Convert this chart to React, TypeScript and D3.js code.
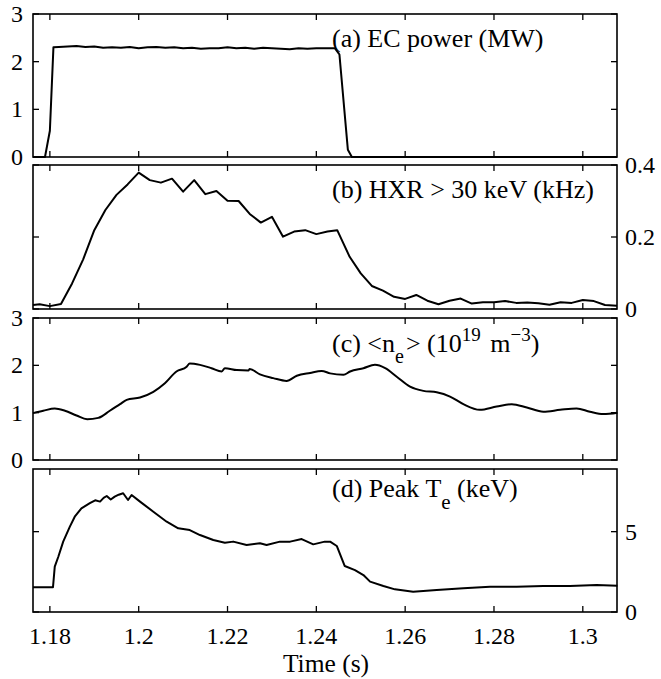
import React from "react";
import * as d3 from "d3";

// (a) EC power (MW)
const ecTime = [1.1762, 1.1789, 1.18, 1.1808, 1.182, 1.184, 1.186, 1.188, 1.19, 1.192, 1.194, 1.196, 1.198, 1.2, 1.202, 1.204, 1.206, 1.208, 1.21, 1.212, 1.214, 1.216, 1.218, 1.22, 1.222, 1.224, 1.226, 1.228, 1.23, 1.232, 1.234, 1.236, 1.238, 1.24, 1.2442, 1.2452, 1.2471, 1.248, 1.3077];
const ecPower = [0, 0, 0.55, 2.3, 2.31, 2.32, 2.33, 2.31, 2.32, 2.29, 2.3, 2.29, 2.31, 2.28, 2.3, 2.31, 2.29, 2.3, 2.28, 2.29, 2.27, 2.28, 2.28, 2.3, 2.28, 2.29, 2.27, 2.29, 2.28, 2.27, 2.26, 2.28, 2.27, 2.28, 2.28, 2.15, 0.15, 0, 0];

// (b) HXR > 30 keV (kHz)
const hxrTime = [1.1762, 1.1777, 1.18, 1.1825, 1.185, 1.1875, 1.19, 1.1925, 1.195, 1.1975, 1.2, 1.2025, 1.205, 1.2075, 1.21, 1.2125, 1.215, 1.2175, 1.22, 1.2225, 1.225, 1.2275, 1.23, 1.2325, 1.235, 1.2375, 1.24, 1.2425, 1.2447, 1.2475, 1.25, 1.2525, 1.255, 1.2575, 1.26, 1.2625, 1.265, 1.2675, 1.27, 1.2725, 1.275, 1.2775, 1.28, 1.2825, 1.285, 1.2875, 1.29, 1.2925, 1.295, 1.2975, 1.3, 1.3025, 1.305, 1.3077];
const hxrRate = [0.011, 0.013, 0.008, 0.014, 0.071, 0.138, 0.219, 0.275, 0.317, 0.346, 0.379, 0.358, 0.351, 0.362, 0.326, 0.358, 0.319, 0.328, 0.301, 0.3, 0.264, 0.24, 0.256, 0.201, 0.215, 0.219, 0.208, 0.215, 0.219, 0.145, 0.099, 0.064, 0.051, 0.034, 0.028, 0.039, 0.023, 0.013, 0.023, 0.029, 0.015, 0.019, 0.019, 0.022, 0.017, 0.018, 0.016, 0.012, 0.019, 0.017, 0.025, 0.022, 0.011, 0.009];

// (c) <ne> (1e19 m^-3)
const neTime = [1.1762, 1.1785, 1.1811, 1.1834, 1.186, 1.1884, 1.1909, 1.1935, 1.1958, 1.1973, 1.2003, 1.2033, 1.2059, 1.2085, 1.2108, 1.2115, 1.2138, 1.2164, 1.2187, 1.2194, 1.2221, 1.2247, 1.225, 1.2273, 1.2303, 1.2333, 1.2356, 1.2386, 1.2412, 1.2431, 1.2461, 1.2476, 1.2506, 1.2532, 1.2555, 1.2581, 1.2611, 1.2641, 1.2671, 1.2701, 1.2731, 1.2768, 1.2806, 1.284, 1.2874, 1.2911, 1.2949, 1.2986, 1.3016, 1.3046, 1.3078];
const neDensity = [0.99, 1.04, 1.09, 1.04, 0.94, 0.86, 0.89, 1.04, 1.18, 1.27, 1.32, 1.44, 1.62, 1.87, 1.97, 2.04, 2.01, 1.94, 1.87, 1.94, 1.9, 1.89, 1.92, 1.81, 1.73, 1.67, 1.78, 1.84, 1.88, 1.83, 1.8, 1.87, 1.94, 2.01, 1.94, 1.76, 1.55, 1.46, 1.43, 1.34, 1.18, 1.06, 1.13, 1.18, 1.11, 1.02, 1.06, 1.09, 1.02, 0.97, 1.0];

// (d) Peak Te (keV)
const teTime = [1.1762, 1.1807, 1.1811, 1.1819, 1.183, 1.1845, 1.1856, 1.1871, 1.189, 1.1902, 1.1913, 1.1921, 1.1928, 1.1937, 1.1946, 1.1955, 1.1965, 1.1976, 1.1984, 1.2003, 1.2033, 1.2063, 1.2089, 1.2115, 1.2138, 1.2168, 1.2194, 1.2213, 1.2243, 1.2273, 1.2288, 1.2318, 1.2341, 1.2367, 1.2393, 1.2419, 1.2431, 1.2446, 1.2464, 1.2487, 1.2506, 1.2521, 1.2551, 1.2577, 1.2618, 1.2671, 1.2731, 1.2791, 1.2851, 1.2911, 1.2971, 1.3031, 1.3078];
const teValue = [1.54, 1.54, 2.82, 3.44, 4.38, 5.31, 5.93, 6.45, 6.77, 6.95, 6.87, 7.1, 7.22, 7.0, 7.18, 7.3, 7.39, 6.97, 7.28, 6.87, 6.24, 5.62, 5.21, 5.1, 4.79, 4.48, 4.31, 4.38, 4.17, 4.28, 4.17, 4.38, 4.38, 4.54, 4.21, 4.38, 4.38, 4.11, 2.86, 2.61, 2.3, 1.89, 1.62, 1.41, 1.26, 1.37, 1.48, 1.57, 1.57, 1.62, 1.62, 1.68, 1.64];

const timeTicks = [1.18, 1.2, 1.22, 1.24, 1.26, 1.28, 1.3];
const timeTickLabels = ["1.18", "1.2", "1.22", "1.24", "1.26", "1.28", "1.3"];

const font = "Liberation Serif, DejaVu Serif";
const W = 661;
const H = 679;
const left = 33;
const right = 617;

const x = d3.scaleLinear().domain([1.1762, 1.3077]).range([left, right]);

const panels = [
  { t: ecTime, v: ecPower, top: 14, bottom: 157, domain: [0, 3], ticks: [0, 1, 2, 3], labels: ["0", "1", "2", "3"], side: "left", curve: d3.curveLinear },
  { t: hxrTime, v: hxrRate, top: 165, bottom: 309, domain: [0, 0.4], ticks: [0, 0.2, 0.4], labels: ["0", "0.2", "0.4"], side: "right", curve: d3.curveLinear },
  { t: neTime, v: neDensity, top: 318, bottom: 460, domain: [0, 3], ticks: [0, 1, 2, 3], labels: ["0", "1", "2", "3"], side: "left", curve: d3.curveMonotoneX },
  { t: teTime, v: teValue, top: 469, bottom: 612, domain: [0, 8.9], ticks: [0, 5], labels: ["0", "5"], side: "right", curve: d3.curveLinear },
];

const Panel = ({ p }: { p: any }) => {
  const y = d3.scaleLinear().domain(p.domain).range([p.bottom, p.top]);
  const line = d3
    .line<number>()
    .x((_, k) => x(p.t[k]))
    .y((d) => y(d))
    .curve(p.curve);
  const tl = 6;
  return (
    <g>
      <path d={line(p.v) || ""} fill="none" stroke="#000" strokeWidth={2} strokeLinejoin="round" />
      <rect x={left} y={p.top} width={right - left} height={p.bottom - p.top} fill="none" stroke="#000" strokeWidth={1.6} />
      {timeTicks.map((t) => (
        <g key={"xt" + t}>
          <line x1={x(t)} x2={x(t)} y1={p.top} y2={p.top + tl} stroke="#000" strokeWidth={1.3} />
          <line x1={x(t)} x2={x(t)} y1={p.bottom} y2={p.bottom - tl} stroke="#000" strokeWidth={1.3} />
        </g>
      ))}
      {p.ticks.map((v: number, k: number) => (
        <g key={"yt" + k}>
          <line x1={left} x2={left + tl} y1={y(v)} y2={y(v)} stroke="#000" strokeWidth={1.3} />
          <line x1={right} x2={right - tl} y1={y(v)} y2={y(v)} stroke="#000" strokeWidth={1.3} />
          <text
            x={p.side === "left" ? left - 10 : right + 8}
            y={y(v) + 8}
            textAnchor={p.side === "left" ? "end" : "start"}
            style={{ fontFamily: font, fontSize: 24 }}
          >
            {p.labels[k]}
          </text>
        </g>
      ))}
    </g>
  );
};

export default function App() {
  return (
    <svg width={W} height={H} style={{ position: "absolute", left: 0, top: 0, background: "#fff" }}>
      {panels.map((p, i) => (
        <Panel key={i} p={p} />
      ))}
      <g style={{ fontFamily: font, fontSize: 26 }}>
        <text x={332} y={47}>(a) EC power (MW)</text>
        <text x={332} y={198}>(b) HXR &gt; 30 keV (kHz)</text>
        <text x={332} y={352}>
          (c) &lt;n
          <tspan dy={11} style={{ fontSize: 20 }}>e</tspan>
          <tspan dy={-11} dx={2}>&gt; (10</tspan>
          <tspan dy={-11} style={{ fontSize: 19 }}>19</tspan>
          <tspan dy={11} dx={3}> m</tspan>
          <tspan dy={-11} style={{ fontSize: 19 }}>−3</tspan>
          <tspan dy={11}>)</tspan>
        </text>
        <text x={332} y={497}>
          (d) Peak T
          <tspan dy={12} style={{ fontSize: 21 }}>e</tspan>
          <tspan dy={-12}> (keV)</tspan>
        </text>
        {timeTicks.map((t, k) => (
          <text key={t} x={x(t)} y={644} textAnchor="middle" style={{ fontSize: 24 }}>
            {timeTickLabels[k]}
          </text>
        ))}
        <text x={326} y={672} textAnchor="middle" style={{ fontSize: 25.5 }}>Time (s)</text>
      </g>
    </svg>
  );
}
